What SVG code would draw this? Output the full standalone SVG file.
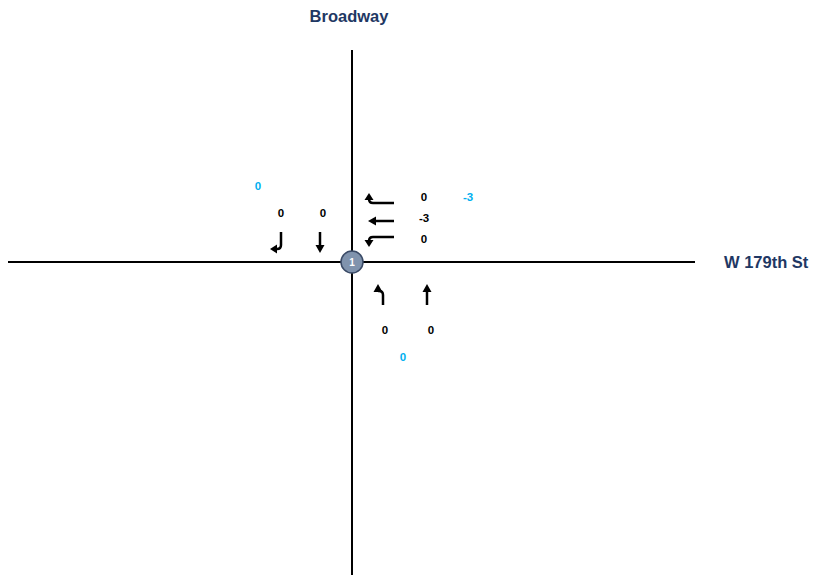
<svg xmlns="http://www.w3.org/2000/svg" width="815" height="575" viewBox="0 0 815 575">
<style>
.road{stroke:#000;stroke-width:2;fill:none}
.arr{stroke:#000;stroke-width:2.5;fill:none}
.head{fill:#000;stroke:none}
.lbl{font-family:"Liberation Sans",Arial,sans-serif;font-weight:bold;font-size:16.5px;fill:#1f3864}
.num{font-family:"Liberation Sans",Arial,sans-serif;font-weight:bold;font-size:11.5px;fill:#000;text-anchor:middle}
.blue{fill:#00b0f0}
</style>
<rect width="815" height="575" fill="#fff"/>
<g id="roads">
<line class="road" x1="352" y1="50" x2="352" y2="575"/>
<line class="road" x1="8" y1="262" x2="695" y2="262"/>
</g>
<g id="labels">
<text class="lbl" x="349" y="22" text-anchor="middle">Broadway</text>
<text class="lbl" x="724" y="268">W 179th St</text>
</g>
<g id="connectors">
<path class="arr" d="M281,232 L281,245 Q281,249 277,249 L276,249"/>
<polygon class="head" points="277,244.5 270,249 277,253.5"/>
<path class="arr" d="M320,232 L320,246"/>
<polygon class="head" points="315.5,245 320,253 324.5,245"/>
<path class="arr" d="M394,203 L373,203 Q369,203 369,199"/>
<polygon class="head" points="364.5,200 369,193 373.5,200"/>
<path class="arr" d="M394,221 L375,221"/>
<polygon class="head" points="376,216.5 368,221 376,225.5"/>
<path class="arr" d="M394,237 L373,237 Q369,237 369,241"/>
<polygon class="head" points="364.5,240 369,247 373.5,240"/>
<path class="arr" d="M383,305 L383,295 Q383,291 379,291 L378,291"/>
<polygon class="head" points="373.5,292 378,284 382.5,292"/>
<path class="arr" d="M427,305 L427,291"/>
<polygon class="head" points="422.5,292 427,284 431.5,292"/>
</g>
<g id="node1">
<circle cx="352" cy="262" r="11" fill="#8093ad" stroke="#3a4a66" stroke-width="1.5"/>
<text x="352" y="266" font-family="Liberation Sans,Arial,sans-serif" font-weight="bold" font-size="10" fill="#fff" text-anchor="middle">1</text>
</g>
<g id="sb">
<text class="num blue" x="258" y="190">0</text>
<text class="num" x="281" y="217">0</text>
<text class="num" x="323" y="217">0</text>
</g>
<g id="wb">
<text class="num" x="424" y="201">0</text>
<text class="num blue" x="468" y="201">-3</text>
<text class="num" x="424" y="222">-3</text>
<text class="num" x="424" y="243">0</text>
</g>
<g id="nb">
<text class="num" x="385" y="334">0</text>
<text class="num" x="431" y="334">0</text>
<text class="num blue" x="403" y="361">0</text>
</g>
</svg>
